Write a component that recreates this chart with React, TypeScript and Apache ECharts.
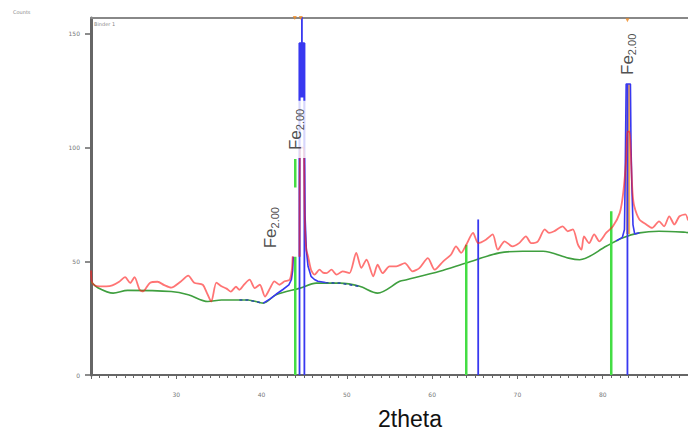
import React, { useEffect, useRef } from "react";
import * as echarts from "echarts";

const observedLow: number[][] = [
  [20, 46], [20.1, 41], [20.4, 39.5], [21.0, 39], [21.8, 39], [22.5, 39.4], [23.3, 41], [24.0, 43],
  [24.6, 40.5], [25.1, 43], [25.7, 37.5], [26.1, 36.8], [26.9, 40.5], [27.8, 41], [28.6, 39.5],
  [29.4, 38.4], [30.5, 41], [31.4, 43.7], [32.1, 40.6], [33.1, 39.7], [33.6, 36], [34.1, 32.3],
  [34.7, 40.6], [35.3, 39], [35.9, 38], [36.4, 36.7], [37.0, 38.8], [37.4, 37.5], [38.0, 40],
  [38.6, 41.9], [39.2, 38.2], [39.8, 39.7], [40.4, 34.5], [41.0, 38.2], [41.5, 41.2], [42.1, 39.7],
  [42.7, 41.2], [43.3, 41.9], [43.55, 46.3], [43.65, 52.2],
];
const observedHigh: number[][] = [
  [44.45, 52], [44.5, 100], [44.95, 100], [45.02, 78], [45.1, 64], [45.25, 55], [45.45, 52.2],
  [45.8, 46.3], [46.2, 44.1], [46.8, 46.3], [47.2, 45], [47.6, 44.8], [48.2, 46.3], [48.8, 44.1],
  [49.5, 45.6], [50.3, 44.8], [51.1, 53.7], [51.7, 47.1], [52.3, 50.7], [53.1, 43.4], [53.6, 48.5],
  [54.2, 44.8], [55.0, 47.8], [55.8, 47.8], [56.8, 49.2], [57.7, 45.6], [58.5, 47], [59.5, 51.4],
  [60.3, 46.3], [61.3, 50], [62.2, 52.9], [62.8, 56.6], [63.4, 53.7], [64.0, 57.3], [64.8, 62.5],
  [65.4, 58], [66.3, 59.5], [67.1, 61.8], [67.7, 55.1], [68.5, 58.8], [69.4, 56.6], [70.2, 58],
  [71.0, 61], [71.6, 58], [72.4, 58.8], [73.2, 64], [73.7, 62.5], [74.3, 63.2], [75.3, 65.4],
  [75.9, 63.2], [76.5, 64], [77.1, 57.3], [77.5, 55.1], [77.8, 61], [78.4, 58], [79.0, 61.8],
  [79.6, 58.8], [80.4, 62.5], [81.2, 65.4], [82.0, 71.3], [82.4, 80], [82.75, 95], [82.9, 107],
  [83.15, 107], [83.35, 92], [83.5, 80], [83.7, 74.2], [84.3, 68.4], [85.1, 66.2], [85.8, 64.7],
  [86.6, 67.6], [87.2, 65.4], [87.8, 69.8], [88.4, 66.2], [89.0, 69.8], [89.7, 70.6], [90, 68],
];

// Background curve
const background: number[][] = [
  [20, 41], [20.8, 38.4], [22.6, 36], [24.3, 37.2], [29.4, 36.7], [31.4, 35.3], [33.7, 32.3],
  [35.3, 33], [38.4, 33], [40.2, 31.6], [41.7, 35.3], [44.5, 38.2], [46.4, 40.4], [49.2, 40.4],
  [51.5, 39], [53.6, 36], [56.2, 41.2], [57, 41.9], [60.9, 45.6], [64, 49.3], [67.9, 53.7],
  [70.6, 54.4], [73, 54.4], [76, 51.4], [77.3, 50.7], [80.4, 56.6], [82.3, 60.3], [84.3, 62.5],
  [86.6, 63.2], [89.7, 62.8], [90, 62.6],
];

// Fitted profile (blue)
const fitPeak1: number[][] = [
  [40.2, 31.6], [41.0, 33.5], [41.7, 35.5], [42.5, 37.6], [43.2, 39.6], [43.5, 42], [43.65, 46], [43.72, 52],
];
const fitPeak1b: number[][] = [
  [44.45, 52], [44.45, 146], [45.02, 146], [45.02, 100], [45.1, 70], [45.25, 55], [45.45, 47.8],
  [45.8, 43.4], [46.2, 42], [46.6, 41.2], [47.5, 40.7],
];
const fitTailA: number[][] = [[37.4, 33], [38.4, 33], [40.2, 31.6]];
const fitTailB: number[][] = [[47.5, 40.6], [49.2, 40.4], [51.5, 39]];
const fitPeak3: number[][] = [
  [81.6, 59], [82.3, 60.5], [82.55, 64], [82.62, 83], [82.75, 128], [83.25, 128], [83.32, 100],
  [83.42, 83], [83.55, 66], [83.75, 62], [84.3, 62.6],
];

// Reference sticks: [position, from, to]
const greenSticks: number[][] = [[43.95, 0, 52], [43.95, 82.5, 95], [64.0, 0, 57.3], [81.0, 0, 72]];
const blueSticks: number[][] = [[44.45, 0, 146], [45.02, 0, 146], [65.4, 0, 68.4], [82.9, 0, 128]];
const blueCore: number[][] = [[44.73, 122, 146]];
const blueTop: number[][] = [[44.73, 146, 165]];
const orangeSticks: number[][] = [[82.98, 62, 128]];
const orangeMarks: number[][] = [[43.9, 157], [44.6, 157], [82.9, 156]];

// Peak labels
const peakLabels: number[][] = [[41.0, 64.8], [44.0, 108], [82.9, 141]];
const labelMain = "Fe";
const labelSub = "2.00";

const xTicks = [30, 40, 50, 60, 70, 80];
const yTicks = [0, 50, 100, 150];

const RED = "rgba(255,30,30,0.62)";
const GREEN_BG = "#3f9f3f";
const GREEN_STICK = "#44dd44";
const BLUE = "#3838f0";
const ORANGE = "#ffb04c";

function stickSeries(list: number[][], color: string, width: number, z: number) {
  return list.map((s) => ({
    type: "line",
    data: [[s[0], s[1]], [s[0], s[2]]],
    symbol: "none",
    lineStyle: { color, width },
    z,
    silent: true,
  }));
}

export default function App() {
  const ref = useRef<HTMLDivElement>(null);
  useEffect(() => {
    if (!ref.current) return;
    const chart = echarts.init(ref.current, null, { renderer: "svg" });
    const option: any = {
      animation: false,
      backgroundColor: "#ffffff",
      grid: { left: 91, right: -2, top: 18, bottom: 61 },
      xAxis: [
        {
          type: "value",
          min: 20,
          max: 90,
          interval: 10,
          axisLine: { lineStyle: { color: "#666", width: 2 } },
          axisTick: { show: true, length: 4, lineStyle: { color: "#666" } },
          minorTick: { show: true, splitNumber: 10, length: 3, lineStyle: { color: "#666" } },
          splitLine: { show: false },
          axisLabel: {
            customValues: xTicks,
            fontSize: 6,
            color: "#777",
            margin: 16,
            fontFamily: "DejaVu Sans",
          },
        },
        {
          type: "value",
          position: "top",
          min: 20,
          max: 90,
          axisLine: { show: true, lineStyle: { color: "#888", width: 2 } },
          axisTick: { show: false },
          axisLabel: { show: false },
          splitLine: { show: false },
        },
      ],
      yAxis: {
        type: "value",
        min: 0,
        max: 157,
        interval: 50,
        axisLine: { show: true, lineStyle: { color: "#666", width: 3 } },
        axisTick: { show: true, customValues: yTicks, length: 6, lineStyle: { color: "#666", width: 1.5 } },
        axisLabel: { customValues: yTicks, fontSize: 6, color: "#777", margin: 11, fontFamily: "DejaVu Sans" },
        splitLine: { show: false },
      },
      graphic: [
        { type: "text", left: 13, top: 9, style: { text: "Counts", fontSize: 5, fill: "#888", fontFamily: "DejaVu Sans" } },
        { type: "text", left: 94, top: 21, style: { text: "Binder 1", fontSize: 5, fill: "#888", fontFamily: "DejaVu Sans" } },
        {
          type: "text",
          x: 410,
          y: 419,
          style: {
            text: "2theta",
            fontSize: 23,
            fill: "#111",
            fontFamily: "Liberation Sans",
            align: "center",
            verticalAlign: "middle",
          },
        },
      ],
      series: [
        { type: "line", data: background, symbol: "none", smooth: 0.3, lineStyle: { color: GREEN_BG, width: 1.6 }, z: 2 },
        ...stickSeries(greenSticks, GREEN_STICK, 2.5, 3),
        ...stickSeries(orangeSticks, ORANGE, 4, 3),
        ...stickSeries(blueSticks, BLUE, 1.8, 4),
        ...stickSeries(blueCore, BLUE, 5, 4),
        ...stickSeries(blueTop, BLUE, 1.8, 4),
        { type: "line", data: fitPeak1, symbol: "none", lineStyle: { color: BLUE, width: 1.6 }, z: 4 },
        { type: "line", data: fitPeak1b, symbol: "none", lineStyle: { color: BLUE, width: 1.6 }, z: 4 },
        { type: "line", data: fitPeak3, symbol: "none", lineStyle: { color: BLUE, width: 1.6 }, z: 4 },
        { type: "line", data: fitTailA, symbol: "none", lineStyle: { color: "#2b4fa8", width: 1.6, type: [3, 3] }, z: 4 },
        { type: "line", data: fitTailB, symbol: "none", lineStyle: { color: "#2b4fa8", width: 1.6, type: [3, 3] }, z: 4 },
        { type: "line", data: observedLow, symbol: "none", smooth: 0.25, lineStyle: { color: RED, width: 1.8 }, z: 5 },
        { type: "line", data: observedHigh, symbol: "none", smooth: 0.25, lineStyle: { color: RED, width: 1.8 }, z: 5 },
        {
          type: "scatter",
          data: orangeMarks,
          symbol: "triangle",
          symbolSize: 4,
          symbolRotate: 180,
          itemStyle: { color: "#f08a20" },
          clip: false,
          z: 6,
        },
        {
          type: "scatter",
          data: peakLabels,
          symbolSize: 0,
          z: 10,
          label: {
            show: true,
            position: "inside",
            rotate: 90,
            formatter: "{m|" + labelMain + "}{s|" + labelSub + "}",
            backgroundColor: "#ffffff",
            padding: [3, 8, 3, 8],
            lineHeight: 20,
            rich: {
              m: { fontSize: 17, color: "#222", fontFamily: "Liberation Sans", verticalAlign: "middle", lineHeight: 20 },
              s: { fontSize: 11, color: "#222", fontFamily: "Liberation Sans", verticalAlign: "bottom", lineHeight: 20 },
            },
          },
        },
      ],
    };
    chart.setOption(option);
    return () => chart.dispose();
  }, []);
  return (
    <div
      ref={ref}
      style={{ position: "fixed", left: 0, top: 0, width: 688, height: 436, background: "#fff" }}
    />
  );
}
